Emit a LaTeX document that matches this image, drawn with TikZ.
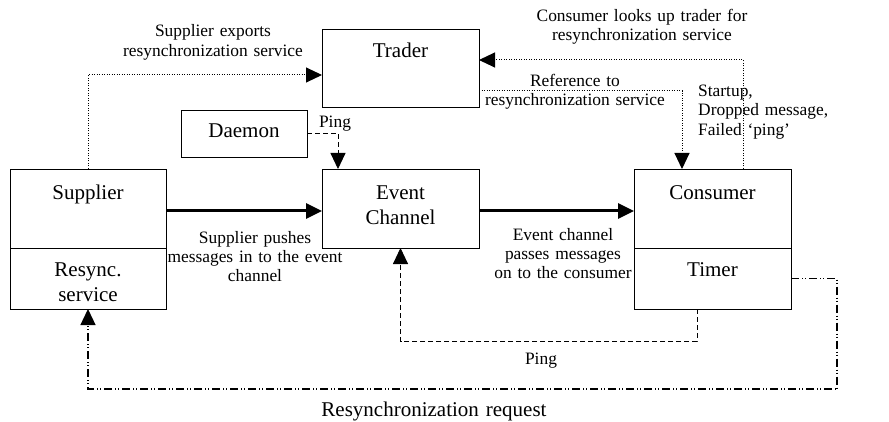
\documentclass[tikz,border=0pt]{standalone}
\usepackage{fontspec}
\setmainfont{Liberation Serif}
\usetikzlibrary{arrows.meta,positioning}
\newcommand{\bigtxt}{\fontsize{21}{25}\selectfont}
\newcommand{\smalltxt}{\fontsize{17.4}{19.3}\selectfont}

\begin{document}
\begin{tikzpicture}[x=1pt,y=1pt,>={Triangle[length=16pt,width=15pt]},
  box/.style={draw,line width=0.9pt,inner sep=0pt,outer sep=0pt,align=center,font=\bigtxt},
  lbl/.style={inner sep=0pt,align=center,font=\smalltxt,text width=300pt},
  dotline/.style={line width=1pt,dash pattern=on 1pt off 1.5pt},
  dashline/.style={line width=0.9pt,dash pattern=on 5pt off 3pt},
  dddline/.style={line width=1.3pt,dash pattern=on 8pt off 3pt on 1pt off 2pt on 1pt off 3pt},
  flow/.style={line width=3pt}]
\useasboundingbox (0,0) rectangle (889,421);
% boxes
\node[box,anchor=north west,text width=157pt,text height=29pt,text depth=49pt] (trader) at (322,392) {Trader};
\node[box,anchor=north west,text width=126pt,text height=28pt,text depth=19pt] (daemon) at (181,311) {Daemon};
\node[box,anchor=north west,text width=156pt,text height=30pt,text depth=49pt] (supplier) at (10,252) {Supplier};
\node[box,below=0pt of supplier,text width=156pt,text height=28.7pt,text depth=32.3pt] (resync) {Resync.\\service};
\node[box,anchor=north west,text width=157pt,text height=30pt,text depth=49pt] (channel) at (322,252) {Event\\Channel};
\node[box,anchor=north west,text width=157pt,text height=30pt,text depth=49pt] (consumer) at (634,252) {Consumer};
\node[box,below=0pt of consumer,text width=157pt,text height=28.7pt,text depth=32.3pt] (timer) {Timer};
% connectors
\draw[->,dotline] (supplier.north) |- ([yshift=-7pt]trader.west);
\draw[->,dotline] ([xshift=30.5pt]consumer.north) |- ([yshift=8pt]trader.east);
\draw[->,dotline] ([yshift=-23pt]trader.east) -| ([xshift=-30.5pt]consumer.north);
\draw[->,dashline] (daemon.east) -| ([xshift=-62.5pt]channel.north);
\draw[->,flow] ([yshift=-2.5pt]supplier.east) -- ([yshift=-2.5pt]channel.west);
\draw[->,flow] ([yshift=-2.5pt]channel.east) -- ([yshift=-2.5pt]consumer.west);
\draw[->,dashline] ([xshift=-15.5pt]timer.south) -- ++(0,-32) -| (channel.south);
\draw[->,dddline] (timer.east) -- ++(46,0) |- ([yshift=-80pt]resync.south) -- (resync.south);
% labels
\node[lbl,anchor=base] (lexport) at (213,384) {Supplier exports\\resynchronization service};
\node[lbl,anchor=base] (llookup) at (642,399.3) {Consumer looks up trader for\\resynchronization service};
\node[lbl,anchor=base] (lref) at (575,334.3) {Reference to\\resynchronization service};
\node[lbl,anchor=base west,align=left,text width=130pt] (lstart) at (698,324.3) {Startup,\\Dropped message,\\Failed `ping'};
\node[lbl,anchor=base] (lping) at (335,293) {Ping};
\node[lbl,anchor=base] (lpush) at (255,178) {Supplier pushes\\messages in to the event\\channel};
\node[lbl,anchor=base] (lpass) at (563,181) {Event channel\\passes messages\\on to the consumer};
\node[lbl,anchor=base] (lping2) at (541,57) {Ping};
\node[lbl,anchor=base,font=\bigtxt] (lreq) at (434,5) {Resynchronization request};
\end{tikzpicture}
\end{document}
